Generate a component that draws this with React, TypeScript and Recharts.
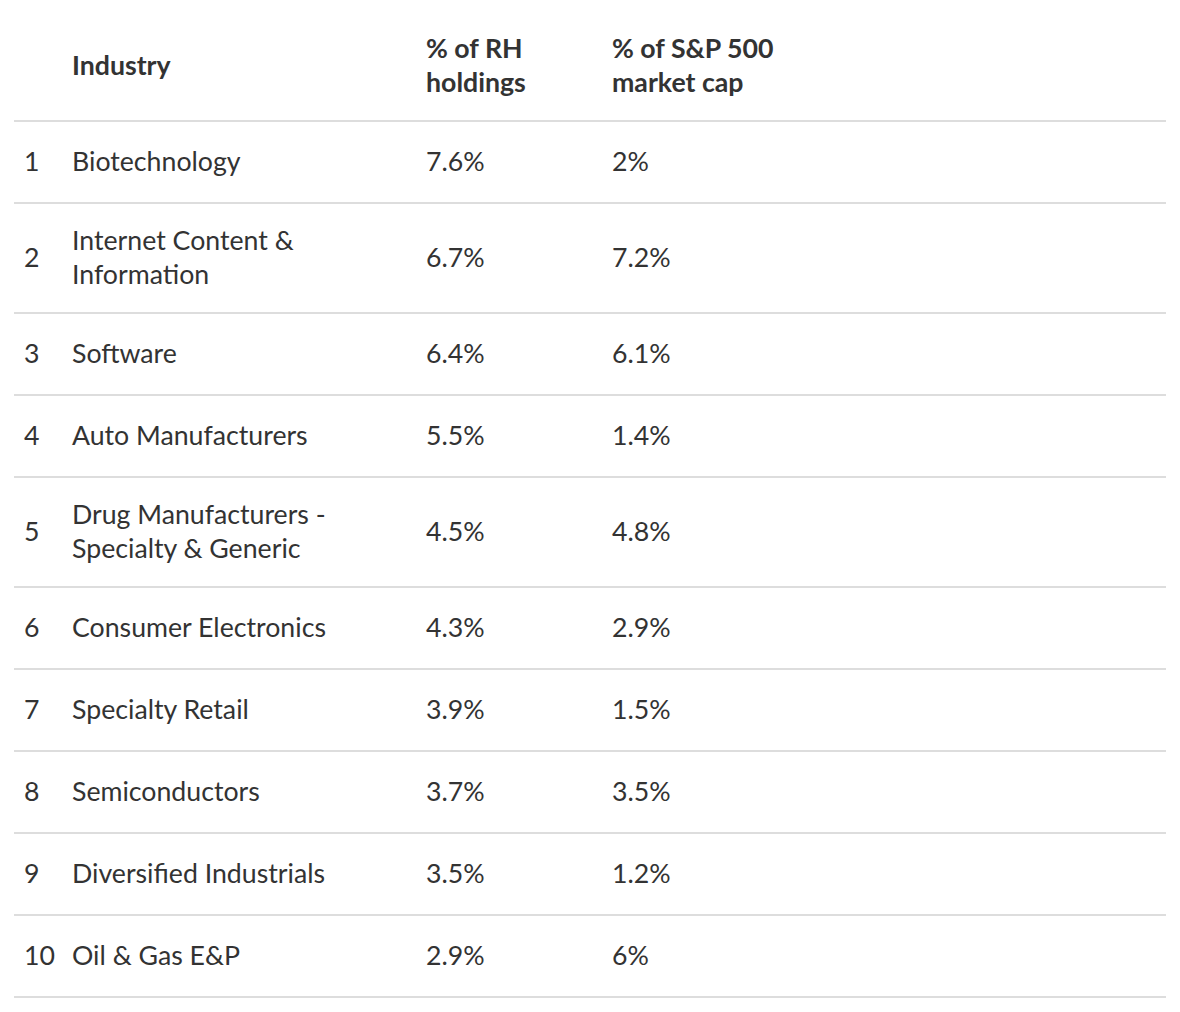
import { ComposedChart, Scatter, XAxis, YAxis, ReferenceLine } from "recharts";

const ranks = ["1", "2", "3", "4", "5", "6", "7", "8", "9", "10"];
const industries = [
  "Biotechnology",
  "Internet Content & Information",
  "Software",
  "Auto Manufacturers",
  "Drug Manufacturers - Specialty & Generic",
  "Consumer Electronics",
  "Specialty Retail",
  "Semiconductors",
  "Diversified Industrials",
  "Oil & Gas E&P",
];
const rhHoldings = [7.6, 6.7, 6.4, 5.5, 4.5, 4.3, 3.9, 3.7, 3.5, 2.9];
const spMarketCap = [2, 7.2, 6.1, 1.4, 4.8, 2.9, 1.5, 3.5, 1.2, 6];
const headers = ["", "Industry", "% of RH holdings", "% of S&P 500 market cap"];

const W = 1180;
const H = 1012;
const FONT = "Lato, sans-serif";
const SIZE = 26.7;
const TEXT = "#333333";
const LINE_GAP = 34;
const HEADER_H = 121;
const ROW_H = 82;
const EXTRA_LINE = 28;
// column starts, in chart x units (= pixels)
const COL = [24, 72, 426, 612];
const COL_W = [40, 300, 170, 180];

let ctx: CanvasRenderingContext2D | null = null;
function wrap(text: string, width: number, bold = false): string[] {
  if (!ctx) ctx = document.createElement("canvas").getContext("2d");
  ctx!.font = `${bold ? 700 : 400} ${SIZE}px ${FONT}`;
  const words = text.split(" ");
  const lines: string[] = [];
  let cur = "";
  words.forEach((w) => {
    const next = cur ? cur + " " + w : w;
    if (cur && ctx!.measureText(next).width > width) {
      lines.push(cur);
      cur = w;
    } else cur = next;
  });
  if (cur) lines.push(cur);
  return lines;
}

type Row = { x: number; y: number; cells: string[][]; bold: boolean };

const rows: Row[] = [];
rows.push({
  x: 14,
  y: HEADER_H / 2 + 4,
  bold: true,
  cells: headers.map((h, i) => (h ? wrap(h, COL_W[i], true) : [])),
});
const boundaries: number[] = [HEADER_H];
let top = HEADER_H;
industries.forEach((name, i) => {
  const cells = [
    [ranks[i]],
    wrap(name, COL_W[1]),
    [`${rhHoldings[i]}%`],
    [`${spMarketCap[i]}%`],
  ];
  const n = Math.max(...cells.map((c) => c.length));
  const h = ROW_H + EXTRA_LINE * (n - 1);
  rows.push({ x: 14, y: top + h / 2 - 1, cells, bold: false });
  top += h;
  boundaries.push(top);
});

const RowShape = (props: any) => {
  const { cy, payload } = props;
  const row = payload as Row;
  return (
    <g>
      {row.cells.map((lines, c) =>
        lines.map((line, k) => (
          <text
            key={`${c}-${k}`}
            x={COL[c]}
            y={cy + (k - (lines.length - 1) / 2) * LINE_GAP}
            dominantBaseline="central"
            fontFamily={FONT}
            fontSize={SIZE}
            fontWeight={row.bold ? 700 : 400}
            fill={TEXT}
          >
            {line}
          </text>
        ))
      )}
    </g>
  );
};

export default function App() {
  return (
    <div style={{ position: "absolute", left: 0, top: 0, width: W, height: H, background: "#fff" }}>
      <ComposedChart width={W} height={H} margin={{ top: 0, right: 14, bottom: 0, left: 14 }}>
        <XAxis type="number" dataKey="x" domain={[14, 1166]} hide />
        <YAxis type="number" dataKey="y" domain={[0, H]} reversed hide />
        {boundaries.map((b) => (
          <ReferenceLine key={b} y={b} stroke="#dddddd" strokeWidth={2} />
        ))}
        <Scatter data={rows} shape={<RowShape />} isAnimationActive={false} />
      </ComposedChart>
    </div>
  );
}
